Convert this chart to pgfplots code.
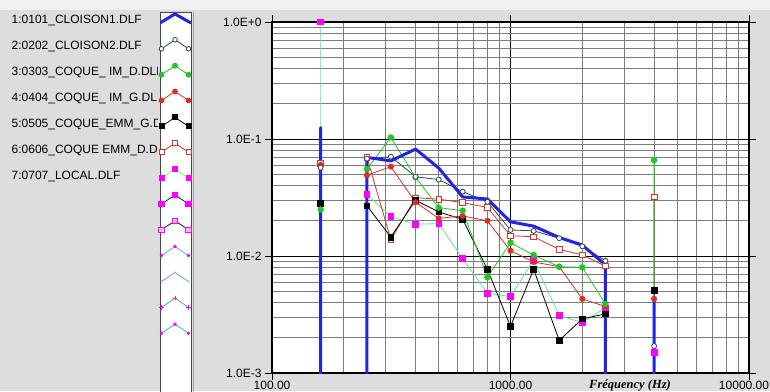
\documentclass[border=0pt]{standalone}
\usepackage{pgfplots}
\pgfplotsset{compat=1.18}
\usepackage{fontspec}
\setmainfont{Liberation Sans}
\newfontfamily\serifit{Liberation Serif}
\definecolor{panel}{RGB}{221,221,221}
\definecolor{topstrip}{RGB}{240,240,240}
\definecolor{cA}{RGB}{35,35,230}
\definecolor{cB}{RGB}{45,75,80}
\definecolor{cC}{RGB}{30,200,30}
\definecolor{cD}{RGB}{225,45,30}
\definecolor{cF}{RGB}{220,50,40}
\definecolor{cG}{RGB}{255,0,255}
\definecolor{mint}{RGB}{100,230,150}
\definecolor{navy}{RGB}{20,20,110}
\definecolor{teal2}{RGB}{70,180,180}
\definecolor{gridg}{RGB}{125,125,125}
\definecolor{boxedge}{RGB}{70,70,70}
\begin{document}
\begin{tikzpicture}
\path[use as bounding box] (0pt,0pt) rectangle (770pt,391pt);
\begin{scope}
\clip (0pt,0pt) rectangle (770pt,391pt);
\fill[panel] (0pt,0pt) rectangle (770pt,391pt);
\fill[topstrip] (0pt,381pt) rectangle (770pt,391pt);
% legend texts (clipped like the original)
\begin{scope}
\clip (0pt,0pt) rectangle (157pt,391pt);
\foreach \t [count=\i] in {1:0101\_CLOISON1.DLF,2:0202\_CLOISON2.DLF,3:0303\_COQUE\_ IM\_D.DLF,4:0404\_COQUE\_ IM\_G.DLF,5:0505\_COQUE\_EMM\_G.DLF,6:0606\_COQUE EMM\_D.DLF,7:0707\_LOCAL.DLF}{
  \pgfmathsetmacro{\yy}{391-19-4.3-26*(\i-1)}
  \node[anchor=base west, inner sep=0pt, font=\fontsize{12}{14}\selectfont] at (11.5pt, \yy pt) {\t};
}
\end{scope}
% legend swatch box
\fill[white] (160pt,-2pt) rectangle (191pt,379pt);
\draw[boxedge, line width=0.9pt] (160pt,-2pt) rectangle (191pt,379pt);
\draw[gray!70, line width=0.8pt] (193.5pt,-2pt) -- (193.5pt,379pt);
% main axis
\begin{axis}[at={(272pt,18pt)}, anchor=south west, scale only axis,
  width=477pt, height=351pt,
  xmode=log, ymode=log,
  xmin=100, xmax=10000, ymin=1e-3, ymax=1,
  xtick={100,1000,10000}, xticklabels={100.00,1000.00,\hspace*{-10pt}10000.00},
  ytick={0.001,0.01,0.1,1}, yticklabels={1.0E-3,1.0E-2,1.0E-1,1.0E+0},
  minor xtick={200,300,400,500,600,700,800,900,2000,3000,4000,5000,6000,7000,8000,9000},
  minor ytick={0.002,0.003,0.004,0.005,0.006,0.007,0.008,0.009,0.02,0.03,0.04,0.05,0.06,0.07,0.08,0.09,0.2,0.3,0.4,0.5,0.6,0.7,0.8,0.9},
  grid=both,
  major grid style={black, line width=0.9pt},
  minor grid style={gridg, line width=0.8pt},
  tick align=outside, major tick length=7pt, minor tick length=0pt,
  tick style={black, line width=0.9pt},
  axis line style={black, line width=1.1pt},
  axis background/.style={fill=white},
  tick label style={font=\fontsize{12}{14}\selectfont},
  xticklabel style={yshift=2.5pt},
  /pgf/number format/assume math mode=true,
  clip=true,
]
% 7 LOCAL
\addplot[mint, line width=0.8pt, mark=square*, mark size=2.8pt, mark options={draw=cG, fill=cG}] coordinates {
(160,1e-5) (160,1.0) (160,1e-5) (250,1e-5) (250,0.0337) (315,0.0217) (400,0.0187) (500,0.0189) (630,0.0095) (800,0.0048) (1000,0.0045) (1250,0.0092) (1600,0.0031) (2000,0.0027) (2500,0.0036) (2500,1e-5) (4000,1e-5) (4000,0.0015) (4000,1e-5)};
% 6 COQUE EMM_D
\addplot[cF, line width=0.8pt, mark=square*, mark size=2.8pt, mark options={draw=cF, fill=white}] coordinates {
(160,1e-5) (160,0.062) (160,1e-5) (250,1e-5) (250,0.070) (315,0.0138) (400,0.0315) (500,0.0306) (630,0.0286) (800,0.026) (1000,0.0149) (1250,0.0146) (1600,0.0114) (2000,0.0102) (2500,0.0082) (2500,1e-5) (4000,1e-5) (4000,0.032) (4000,1e-5)};
% 5 COQUE_EMM_G
\addplot[black, line width=0.8pt, mark=square*, mark size=2.8pt, mark options={draw=black, fill=black}] coordinates {
(160,1e-5) (160,0.028) (160,1e-5) (250,1e-5) (250,0.0269) (315,0.0145) (400,0.030) (500,0.0238) (630,0.0206) (800,0.0077) (1000,0.0025) (1250,0.0077) (1600,0.0019) (2000,0.0029) (2500,0.0032) (2500,1e-5) (4000,1e-5) (4000,0.0051) (4000,1e-5)};
% 4 COQUE_IM_G
\addplot[cD, line width=0.8pt, mark=*, mark size=2.6pt, mark options={draw=cD, fill=cD}] coordinates {
(160,1e-5) (160,0.060) (160,1e-5) (250,1e-5) (250,0.049) (315,0.058) (400,0.0288) (500,0.021) (630,0.022) (800,0.020) (1000,0.0111) (1250,0.0089) (1600,0.0081) (2000,0.0043) (2500,0.0037) (2500,1e-5) (4000,1e-5) (4000,0.0043) (4000,1e-5)};
% 3 COQUE_IM_D
\addplot[cC, line width=0.8pt, mark=*, mark size=2.8pt, mark options={draw=cC, fill=cC}] coordinates {
(160,1e-5) (160,0.025) (160,1e-5) (250,1e-5) (250,0.0554) (315,0.103) (400,0.047) (500,0.0259) (630,0.0244) (800,0.0066) (1000,0.013) (1250,0.0102) (1600,0.0081) (2000,0.0080) (2500,0.0039) (2500,1e-5) (4000,1e-5) (4000,0.066) (4000,1e-5)};
% 2 CLOISON2
\addplot[cB, line width=0.8pt, mark=*, mark size=2.5pt, mark options={draw=cB, fill=white, line width=0.8pt}] coordinates {
(160,1e-5) (160,0.057) (160,1e-5) (250,1e-5) (250,0.068) (315,0.0706) (400,0.0476) (500,0.045) (630,0.0355) (800,0.029) (1000,0.0167) (1250,0.0164) (1600,0.0142) (2000,0.0121) (2500,0.0091) (2500,1e-5) (4000,1e-5) (4000,0.0017) (4000,1e-5)};
% 1 CLOISON1
\addplot[cA, line width=3pt, line join=round] coordinates {
(160,1e-5) (160,0.125) (160,1e-5) (250,1e-5) (250,0.0697) (315,0.065) (400,0.082) (500,0.0565) (630,0.032) (800,0.0307) (1000,0.0196) (1250,0.018) (1600,0.0144) (2000,0.0124) (2500,0.0084) (2500,1e-5) (4000,1e-5) (4000,0.0043) (4000,1e-5)};
\end{axis}
\node[anchor=base, inner sep=0pt, font=\serifit\bfseries\itshape\fontsize{12.5}{14}\selectfont] at (630pt,3pt) {Fréquency (Hz)};
% legend swatches
\begin{axis}[at={(160pt,0pt)}, anchor=south west, scale only axis,
  width=31pt, height=379pt, xmin=160, xmax=191, ymin=0, ymax=379,
  hide axis, clip=true]
\addplot[cA, line width=3pt, line join=round] coordinates {(160,368) (175,377) (191,368)};
\addplot[cB, line width=0.8pt, mark=*, mark size=2.3pt, mark options={draw=cB, fill=white}] coordinates {(161.5,342.2) (175,351.2) (188.5,342.2)};
\addplot[cC, line width=0.8pt, mark=*, mark size=2.5pt, mark options={draw=cC, fill=cC}] coordinates {(161.5,316.3) (175,325.3) (188.5,316.3)};
\addplot[cD, line width=0.8pt, mark=*, mark size=2.4pt, mark options={draw=cD, fill=cD}] coordinates {(161.5,290.5) (175,299.5) (188.5,290.5)};
\addplot[black, line width=0.8pt, mark=square*, mark size=2.5pt, mark options={draw=black, fill=black}] coordinates {(161.5,264.6) (175,273.6) (188.5,264.6)};
\addplot[cF, line width=0.8pt, mark=square*, mark size=2.5pt, mark options={draw=cF, fill=white}] coordinates {(161.5,238.8) (175,247.8) (188.5,238.8)};
\addplot[mint, line width=0.8pt, mark=square*, mark size=2.5pt, mark options={draw=cG, fill=cG}] coordinates {(161.5,212.9) (175,221.9) (188.5,212.9)};
\addplot[navy, line width=0.8pt, mark=square*, mark size=2.8pt, mark options={draw=cG, fill=cG}] coordinates {(161.5,187.0) (175,196.0) (188.5,187.0)};
\addplot[navy, line width=0.8pt, mark=square*, mark size=2.8pt, mark options={draw=cG, fill=cG!25}] coordinates {(161.5,161.2) (175,170.2) (188.5,161.2)};
\addplot[teal2, line width=0.8pt, mark=*, mark size=1.3pt, mark options={draw=cG, fill=cG}] coordinates {(161.5,135.4) (175,144.4) (188.5,135.4)};
\addplot[teal2, line width=0.8pt, mark=*, mark size=0.6pt, mark options={draw=cG!50, fill=cG!50}] coordinates {(161.5,109.5) (175,118.5) (188.5,109.5)};
\addplot[teal2, line width=0.8pt, mark=+, mark size=2.2pt, mark options={draw=cG, line width=0.9pt}] coordinates {(161.5,83.7) (175,92.7) (188.5,83.7)};
\addplot[teal2, line width=0.8pt, mark=*, mark size=1.3pt, mark options={draw=cG, fill=cG}] coordinates {(161.5,57.8) (175,66.8) (188.5,57.8)};
\end{axis}
\end{scope}
\end{tikzpicture}
\end{document}
